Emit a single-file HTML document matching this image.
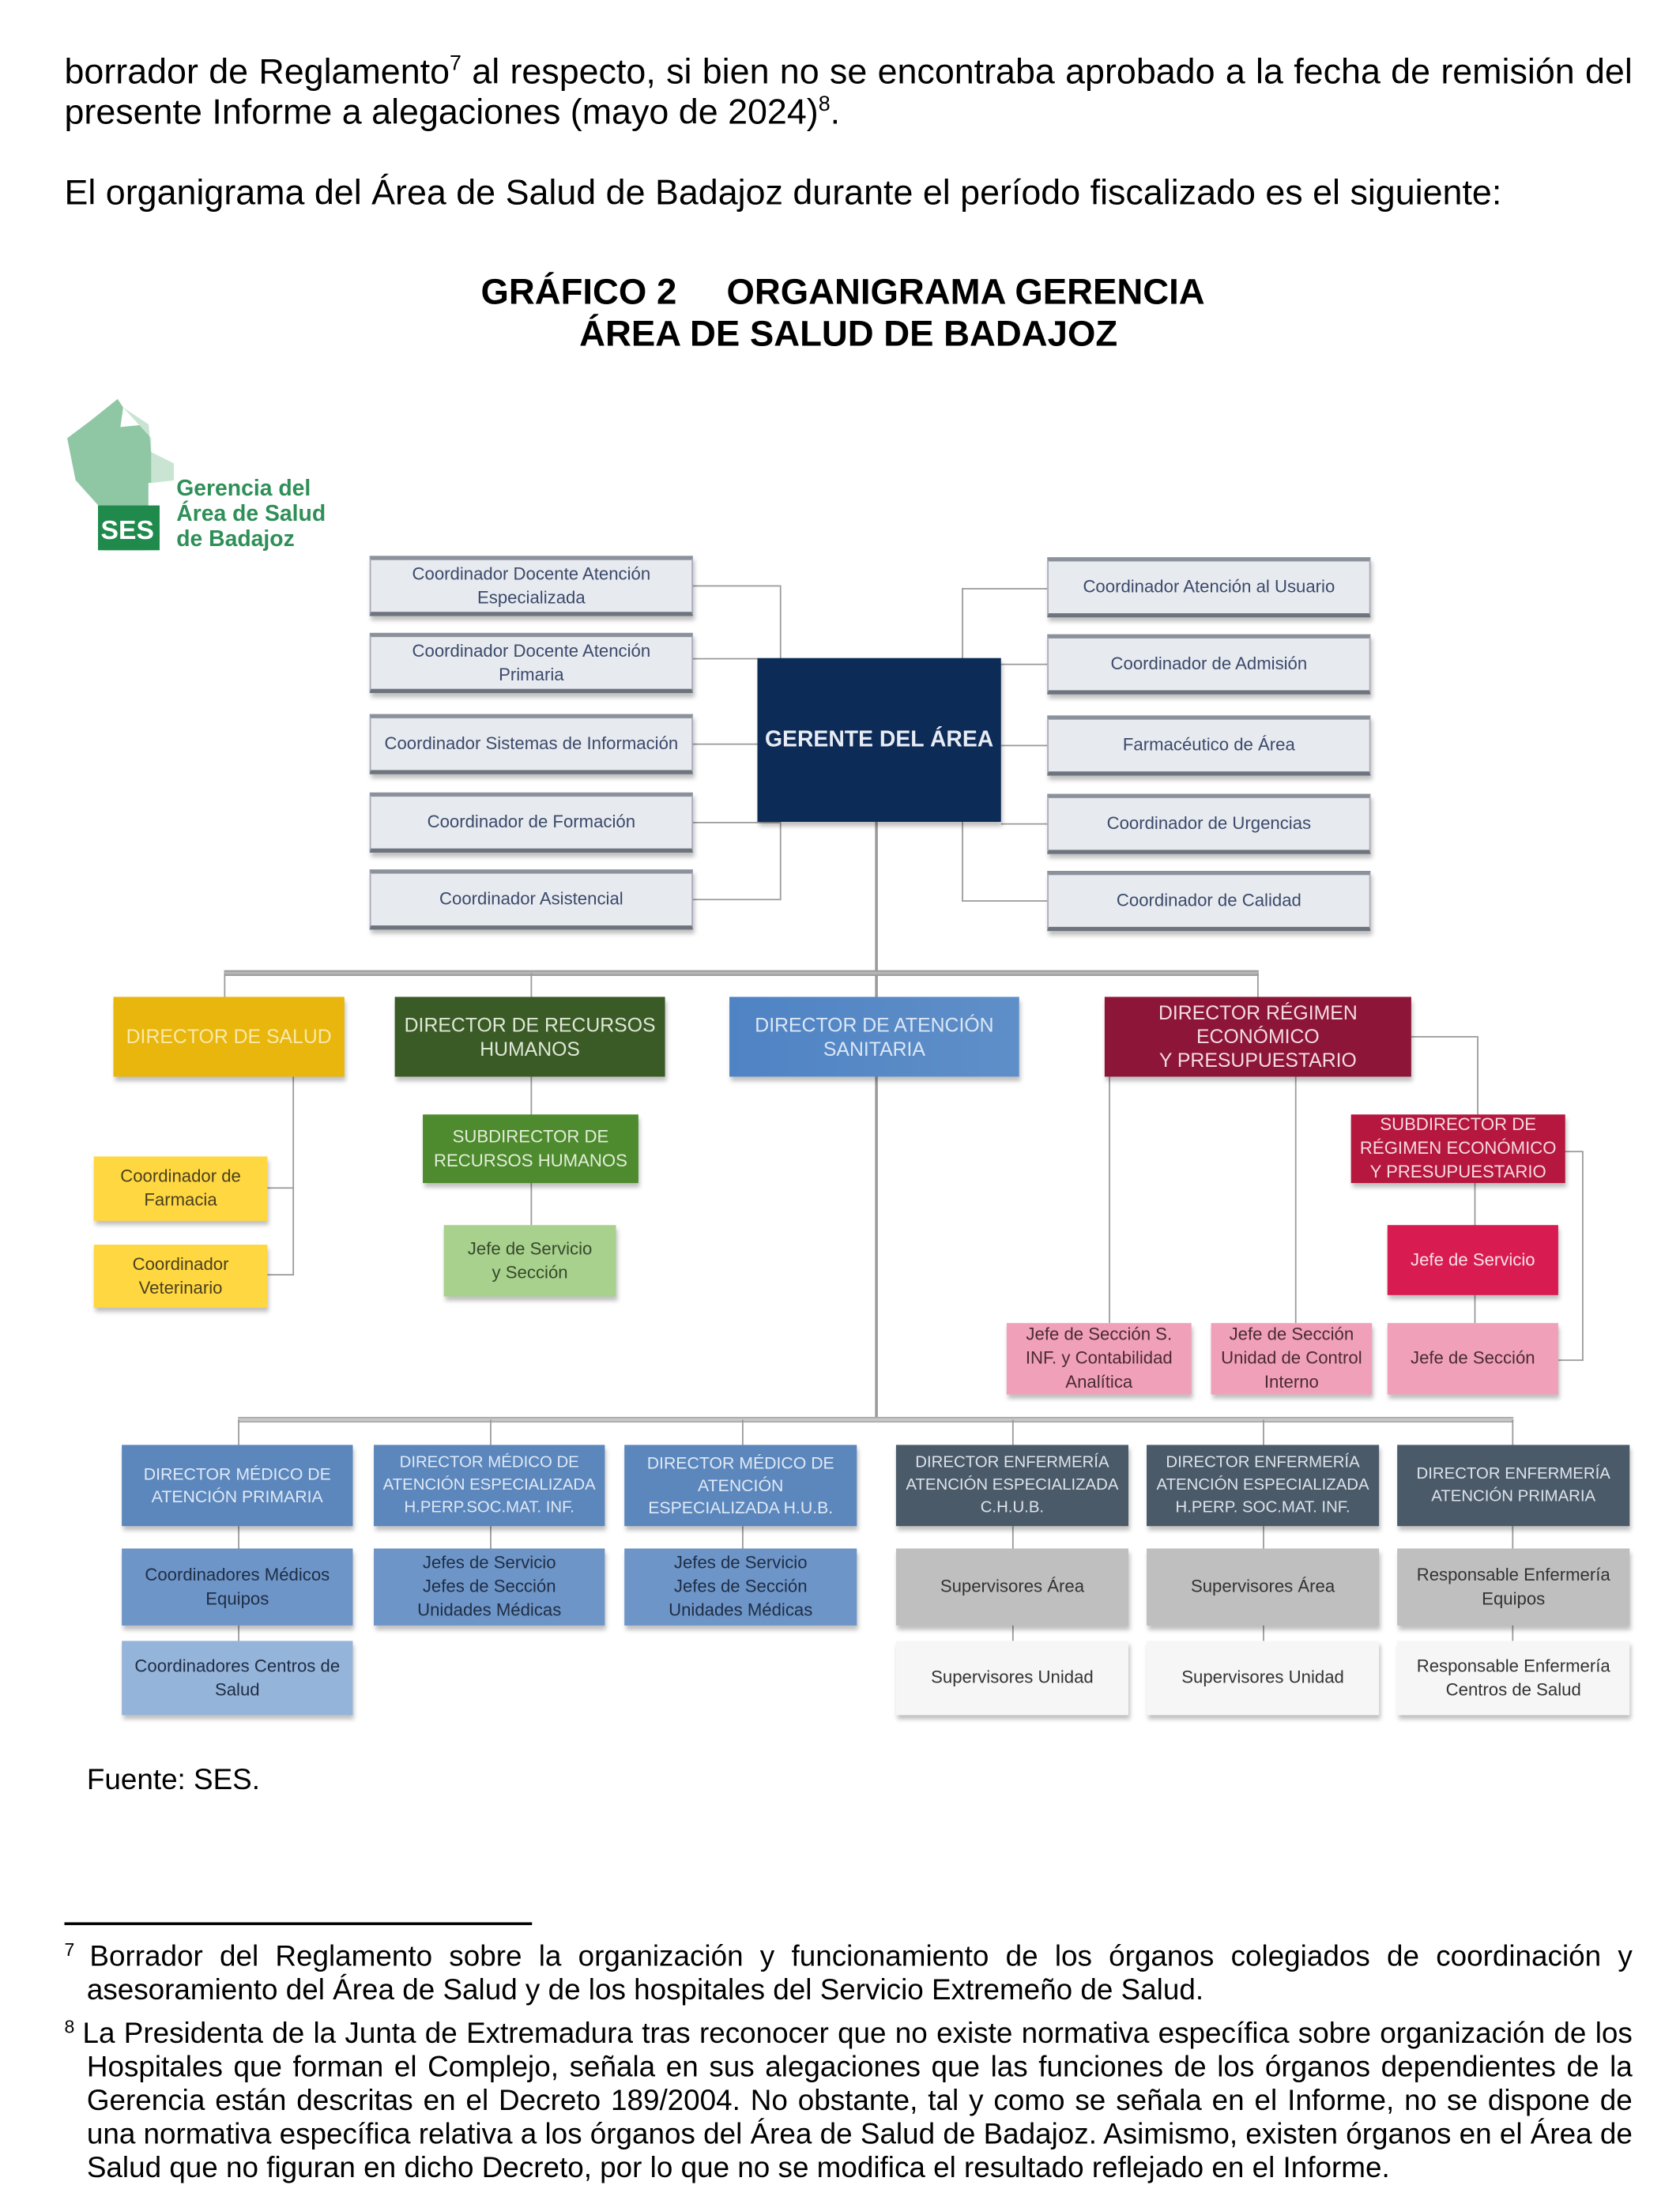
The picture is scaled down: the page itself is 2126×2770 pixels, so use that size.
<!DOCTYPE html>
<html><head><meta charset="utf-8">
<style>
html,body{margin:0;padding:0;background:#fff;}
body{width:2126px;height:2770px;overflow:hidden;position:relative;}
#c{position:absolute;left:0;top:0;width:1200px;height:1563px;transform:scale(1.7717);transform-origin:0 0;font-family:"Liberation Sans",sans-serif;color:#000;}
.t{position:absolute;white-space:nowrap;}
.j{position:absolute;left:46px;width:1120px;text-align:justify;text-align-last:justify;white-space:nowrap;}
.b{position:absolute;display:flex;align-items:center;justify-content:center;text-align:center;font-family:"Liberation Sans Narrow","Liberation Sans",sans-serif;font-size:12.5px;line-height:17px;box-sizing:border-box;box-shadow:1px 3px 3px rgba(0,0,0,.25);}
.co{background:#e7eaef;color:#3b4a6b;border-top:3px solid #8c929c;border-bottom:3px solid #6e747e;border-left:1px solid #aab;border-right:1px solid #aab;}
.l{position:absolute;background:#9a9a9a;}
sup{font-size:60%;}
</style></head><body><div id="c">
<div class="j" style="top:37px;font-size:25.3px;">borrador de Reglamento<sup>7</sup> al respecto, si bien no se encontraba aprobado a la fecha de remisión del</div>
<div class="t" style="left:46px;top:66px;font-size:25.3px;">presente Informe a alegaciones (mayo de 2024)<sup>8</sup>.</div>
<div class="t" style="left:46px;top:124px;font-size:25.3px;">El organigrama del Área de Salud de Badajoz durante el período fiscalizado es el siguiente:</div>
<div class="t" style="left:0;width:1204px;text-align:center;top:195px;font-size:25.7px;font-weight:bold;">GRÁFICO 2&nbsp;&nbsp;&nbsp;&nbsp;&nbsp;ORGANIGRAMA GERENCIA</div>
<div class="t" style="left:0;width:1212px;text-align:center;top:225px;font-size:25.7px;font-weight:bold;">ÁREA DE SALUD DE BADAJOZ</div>

<!-- logo -->
<svg style="position:absolute;left:46px;top:283px" width="205" height="115">
<path d="M18 18 L38 2 L42 8 L40 22 L60 20 L62 40 L78 48 L78 60 L60 62 L60 110 L28 110 L26 80 L8 60 L2 30 Z" fill="#8fc7a4"/>
<path d="M42 8 L60 20 L62 40 L78 48 L78 60 L62 62 L62 30 Z" fill="#c9e4d2"/>
<rect x="24" y="78" width="44" height="32" fill="#1f8a4c"/>
<text x="26" y="102" font-family="Liberation Sans" font-weight="bold" font-size="19" fill="#fff">SES</text>
<text x="80" y="71" font-family="Liberation Sans Narrow,Liberation Sans" font-weight="bold" font-size="16" fill="#2f8f58">Gerencia del</text>
<text x="80" y="89" font-family="Liberation Sans Narrow,Liberation Sans" font-weight="bold" font-size="16" fill="#2f8f58">Área de Salud</text>
<text x="80" y="107" font-family="Liberation Sans Narrow,Liberation Sans" font-weight="bold" font-size="16" fill="#2f8f58">de Badajoz</text>
</svg>

<!-- connectors -->
<div class="l" style="left:495px;top:418px;width:62px;height:1px"></div>
<div class="l" style="left:495px;top:470px;width:46px;height:1px"></div>
<div class="l" style="left:495px;top:531px;width:46px;height:1px"></div>
<div class="l" style="left:495px;top:587px;width:62px;height:1px"></div>
<div class="l" style="left:495px;top:642px;width:62px;height:1px"></div>
<div class="l" style="left:557px;top:418px;width:1px;height:225px"></div>
<div class="l" style="left:687px;top:420px;width:61px;height:1px"></div>
<div class="l" style="left:715px;top:474px;width:33px;height:1px"></div>
<div class="l" style="left:715px;top:532px;width:33px;height:1px"></div>
<div class="l" style="left:715px;top:588px;width:33px;height:1px"></div>
<div class="l" style="left:687px;top:643px;width:61px;height:1px"></div>
<div class="l" style="left:687px;top:420px;width:1px;height:224px"></div>
<div class="l" style="left:625px;top:587px;width:2px;height:426px"></div>
<div class="l" style="left:160px;top:693px;width:739px;height:4px;background:#b5b5b5;border-top:1px solid #999;border-bottom:1px solid #999;box-sizing:border-box"></div>
<div class="l" style="left:160px;top:695px;width:1px;height:17px"></div>
<div class="l" style="left:379px;top:695px;width:1px;height:17px"></div>
<div class="l" style="left:898px;top:695px;width:1px;height:17px"></div>
<div class="l" style="left:209px;top:769px;width:1px;height:142px"></div>
<div class="l" style="left:191px;top:848px;width:19px;height:1px"></div>
<div class="l" style="left:191px;top:910px;width:19px;height:1px"></div>
<div class="l" style="left:379px;top:769px;width:1px;height:106px"></div>
<div class="l" style="left:792px;top:769px;width:1px;height:176px"></div>
<div class="l" style="left:925px;top:769px;width:1px;height:176px"></div>
<div class="l" style="left:1008px;top:740px;width:47px;height:1px"></div>
<div class="l" style="left:1055px;top:740px;width:1px;height:56px"></div>
<div class="l" style="left:1053px;top:845px;width:1px;height:100px"></div>
<div class="l" style="left:1118px;top:822px;width:12px;height:1px"></div>
<div class="l" style="left:1130px;top:822px;width:1px;height:150px"></div>
<div class="l" style="left:1113px;top:971px;width:18px;height:1px"></div>
<div class="l" style="left:170px;top:1012px;width:911px;height:4px;background:#c9c9c9;border-top:1px solid #aaa;border-bottom:1px solid #aaa;box-sizing:border-box"></div>
<div class="l" style="left:170px;top:1014px;width:1px;height:18px"></div>
<div class="l" style="left:350px;top:1014px;width:1px;height:18px"></div>
<div class="l" style="left:530px;top:1014px;width:1px;height:18px"></div>
<div class="l" style="left:723px;top:1014px;width:1px;height:18px"></div>
<div class="l" style="left:902px;top:1014px;width:1px;height:18px"></div>
<div class="l" style="left:1080px;top:1014px;width:1px;height:18px"></div>
<div class="l" style="left:170px;top:1090px;width:1px;height:82px"></div>
<div class="l" style="left:350px;top:1090px;width:1px;height:16px"></div>
<div class="l" style="left:530px;top:1090px;width:1px;height:16px"></div>
<div class="l" style="left:723px;top:1090px;width:1px;height:82px"></div>
<div class="l" style="left:902px;top:1090px;width:1px;height:82px"></div>
<div class="l" style="left:1080px;top:1090px;width:1px;height:82px"></div>

<!-- coordinators -->
<div class="b co" style="left:264px;top:397px;width:231px;height:43px">Coordinador Docente Atención<br>Especializada</div>
<div class="b co" style="left:264px;top:452px;width:231px;height:43px">Coordinador Docente Atención<br>Primaria</div>
<div class="b co" style="left:264px;top:510px;width:231px;height:43px">Coordinador Sistemas de Información</div>
<div class="b co" style="left:264px;top:566px;width:231px;height:43px">Coordinador de Formación</div>
<div class="b co" style="left:264px;top:621px;width:231px;height:43px">Coordinador Asistencial</div>
<div class="b co" style="left:748px;top:398px;width:231px;height:43px">Coordinador Atención al Usuario</div>
<div class="b co" style="left:748px;top:453px;width:231px;height:43px">Coordinador de Admisión</div>
<div class="b co" style="left:748px;top:511px;width:231px;height:43px">Farmacéutico de Área</div>
<div class="b co" style="left:748px;top:567px;width:231px;height:43px">Coordinador de Urgencias</div>
<div class="b co" style="left:748px;top:622px;width:231px;height:43px">Coordinador de Calidad</div>
<div class="b" style="left:541px;top:470px;width:174px;height:117px;background:#0d2b57;color:#e8ecf4;font-size:16px;font-weight:bold">GERENTE DEL ÁREA</div>

<!-- directors -->
<div class="b" style="left:81px;top:712px;width:165px;height:57px;background:#e8b60c;color:#fbe9a8;font-size:14px">DIRECTOR DE SALUD</div>
<div class="b" style="left:282px;top:712px;width:193px;height:57px;background:#3a5a26;color:#dfe8d6;font-size:14px">DIRECTOR DE RECURSOS<br>HUMANOS</div>
<div class="b" style="left:521px;top:712px;width:207px;height:57px;background:linear-gradient(90deg,#4f83c4,#5f8fc8);color:#dbe7f6;font-size:14px">DIRECTOR DE ATENCIÓN<br>SANITARIA</div>
<div class="b" style="left:789px;top:712px;width:219px;height:57px;background:#8c1538;color:#f4dbe2;font-size:14px">DIRECTOR RÉGIMEN<br>ECONÓMICO<br>Y PRESUPUESTARIO</div>
<div class="b" style="left:67px;top:826px;width:124px;height:46px;background:#ffd740;color:#4a4020">Coordinador de<br>Farmacia</div>
<div class="b" style="left:67px;top:889px;width:124px;height:45px;background:#ffd740;color:#4a4020">Coordinador<br>Veterinario</div>
<div class="b" style="left:302px;top:796px;width:154px;height:49px;background:#4e8a2e;color:#e3eed9">SUBDIRECTOR DE<br>RECURSOS HUMANOS</div>
<div class="b" style="left:317px;top:875px;width:123px;height:51px;background:#a9d18e;color:#354a2a">Jefe de Servicio<br>y Sección</div>
<div class="b" style="left:965px;top:796px;width:153px;height:49px;background:#b5173f;color:#f6d9e0">SUBDIRECTOR DE<br>RÉGIMEN ECONÓMICO<br>Y PRESUPUESTARIO</div>
<div class="b" style="left:991px;top:875px;width:122px;height:50px;background:#d81b50;color:#fbe0e8">Jefe de Servicio</div>
<div class="b" style="left:719px;top:945px;width:132px;height:51px;background:#f0a1b9;color:#4a2a34">Jefe de Sección S.<br>INF. y Contabilidad<br>Analítica</div>
<div class="b" style="left:865px;top:945px;width:115px;height:51px;background:#f0a1b9;color:#4a2a34">Jefe de Sección<br>Unidad de Control<br>Interno</div>
<div class="b" style="left:991px;top:945px;width:122px;height:51px;background:#f0a1b9;color:#4a2a34">Jefe de Sección</div>

<!-- bottom row -->
<div class="b" style="left:87px;top:1032px;width:165px;height:58px;background:#5b87bd;color:#e0e9f5;font-size:12px;line-height:16px">DIRECTOR MÉDICO DE<br>ATENCIÓN PRIMARIA</div>
<div class="b" style="left:267px;top:1032px;width:165px;height:58px;background:#5b87bd;color:#e0e9f5;font-size:11.5px;line-height:16px">DIRECTOR MÉDICO DE<br>ATENCIÓN ESPECIALIZADA<br>H.PERP.SOC.MAT. INF.</div>
<div class="b" style="left:446px;top:1032px;width:166px;height:58px;background:#5b87bd;color:#e0e9f5;font-size:12px;line-height:16px">DIRECTOR MÉDICO DE<br>ATENCIÓN<br>ESPECIALIZADA  H.U.B.</div>
<div class="b" style="left:640px;top:1032px;width:166px;height:58px;background:#4b5a69;color:#dde3ea;font-size:11.5px;line-height:16px">DIRECTOR ENFERMERÍA<br>ATENCIÓN ESPECIALIZADA<br>C.H.U.B.</div>
<div class="b" style="left:819px;top:1032px;width:166px;height:58px;background:#4b5a69;color:#dde3ea;font-size:11.5px;line-height:16px">DIRECTOR ENFERMERÍA<br>ATENCIÓN ESPECIALIZADA<br>H.PERP. SOC.MAT. INF.</div>
<div class="b" style="left:998px;top:1032px;width:166px;height:58px;background:#4b5a69;color:#dde3ea;font-size:11.5px;line-height:16px">DIRECTOR ENFERMERÍA<br>ATENCIÓN PRIMARIA</div>
<div class="b" style="left:87px;top:1106px;width:165px;height:55px;background:#6d95c7;color:#1f2d45">Coordinadores Médicos<br>Equipos</div>
<div class="b" style="left:267px;top:1106px;width:165px;height:55px;background:#6d95c7;color:#1f2d45">Jefes de Servicio<br>Jefes de Sección<br>Unidades Médicas</div>
<div class="b" style="left:446px;top:1106px;width:166px;height:55px;background:#6d95c7;color:#1f2d45">Jefes de Servicio<br>Jefes de Sección<br>Unidades Médicas</div>
<div class="b" style="left:640px;top:1106px;width:166px;height:55px;background:#bfbfbf;color:#333">Supervisores Área</div>
<div class="b" style="left:819px;top:1106px;width:166px;height:55px;background:#bfbfbf;color:#333">Supervisores Área</div>
<div class="b" style="left:998px;top:1106px;width:166px;height:55px;background:#bfbfbf;color:#333">Responsable Enfermería<br>Equipos</div>
<div class="b" style="left:87px;top:1172px;width:165px;height:53px;background:#95b4da;color:#1f2d45">Coordinadores Centros de<br>Salud</div>
<div class="b" style="left:640px;top:1172px;width:166px;height:53px;background:#f6f6f6;color:#333">Supervisores Unidad</div>
<div class="b" style="left:819px;top:1172px;width:166px;height:53px;background:#f6f6f6;color:#333">Supervisores Unidad</div>
<div class="b" style="left:998px;top:1172px;width:166px;height:53px;background:#f6f6f6;color:#333">Responsable Enfermería<br>Centros de Salud</div>

<div class="t" style="left:62px;top:1260px;font-size:20.8px;">Fuente: SES.</div>
<div style="position:absolute;left:46px;top:1373px;width:334px;height:2px;background:#000"></div>
<div class="t" style="left:46px;top:1385px;font-size:20px;"><sup style="font-size:13px;vertical-align:8px">7</sup></div>
<div class="j" style="left:64px;width:1102px;top:1386px;font-size:20.8px;">Borrador del Reglamento sobre la organización y funcionamiento de los órganos colegiados de coordinación y</div>
<div class="t" style="left:62px;top:1410px;font-size:20.8px;">asesoramiento del Área de Salud y de los hospitales del Servicio Extremeño de Salud.</div>
<div class="t" style="left:46px;top:1440px;font-size:20px;"><sup style="font-size:13px;vertical-align:8px">8</sup></div>
<div class="j" style="left:59px;width:1107px;top:1441px;font-size:20.8px;">La Presidenta de la Junta de Extremadura tras reconocer que no existe normativa específica sobre organización de los</div>
<div class="j" style="left:62px;width:1104px;top:1465px;font-size:20.8px;">Hospitales que forman el Complejo, señala en sus alegaciones que las funciones de los órganos dependientes de la</div>
<div class="j" style="left:62px;width:1104px;top:1489px;font-size:20.8px;">Gerencia están descritas en el Decreto 189/2004. No obstante, tal y como se señala en el Informe, no se dispone de</div>
<div class="j" style="left:62px;width:1104px;top:1513px;font-size:20.8px;">una normativa específica relativa a los órganos del Área de Salud de Badajoz. Asimismo, existen órganos en el Área de</div>
<div class="t" style="left:62px;top:1537px;font-size:20.8px;">Salud que no figuran en dicho Decreto, por lo que no se modifica el resultado reflejado en el Informe.</div>
</div></body></html>
